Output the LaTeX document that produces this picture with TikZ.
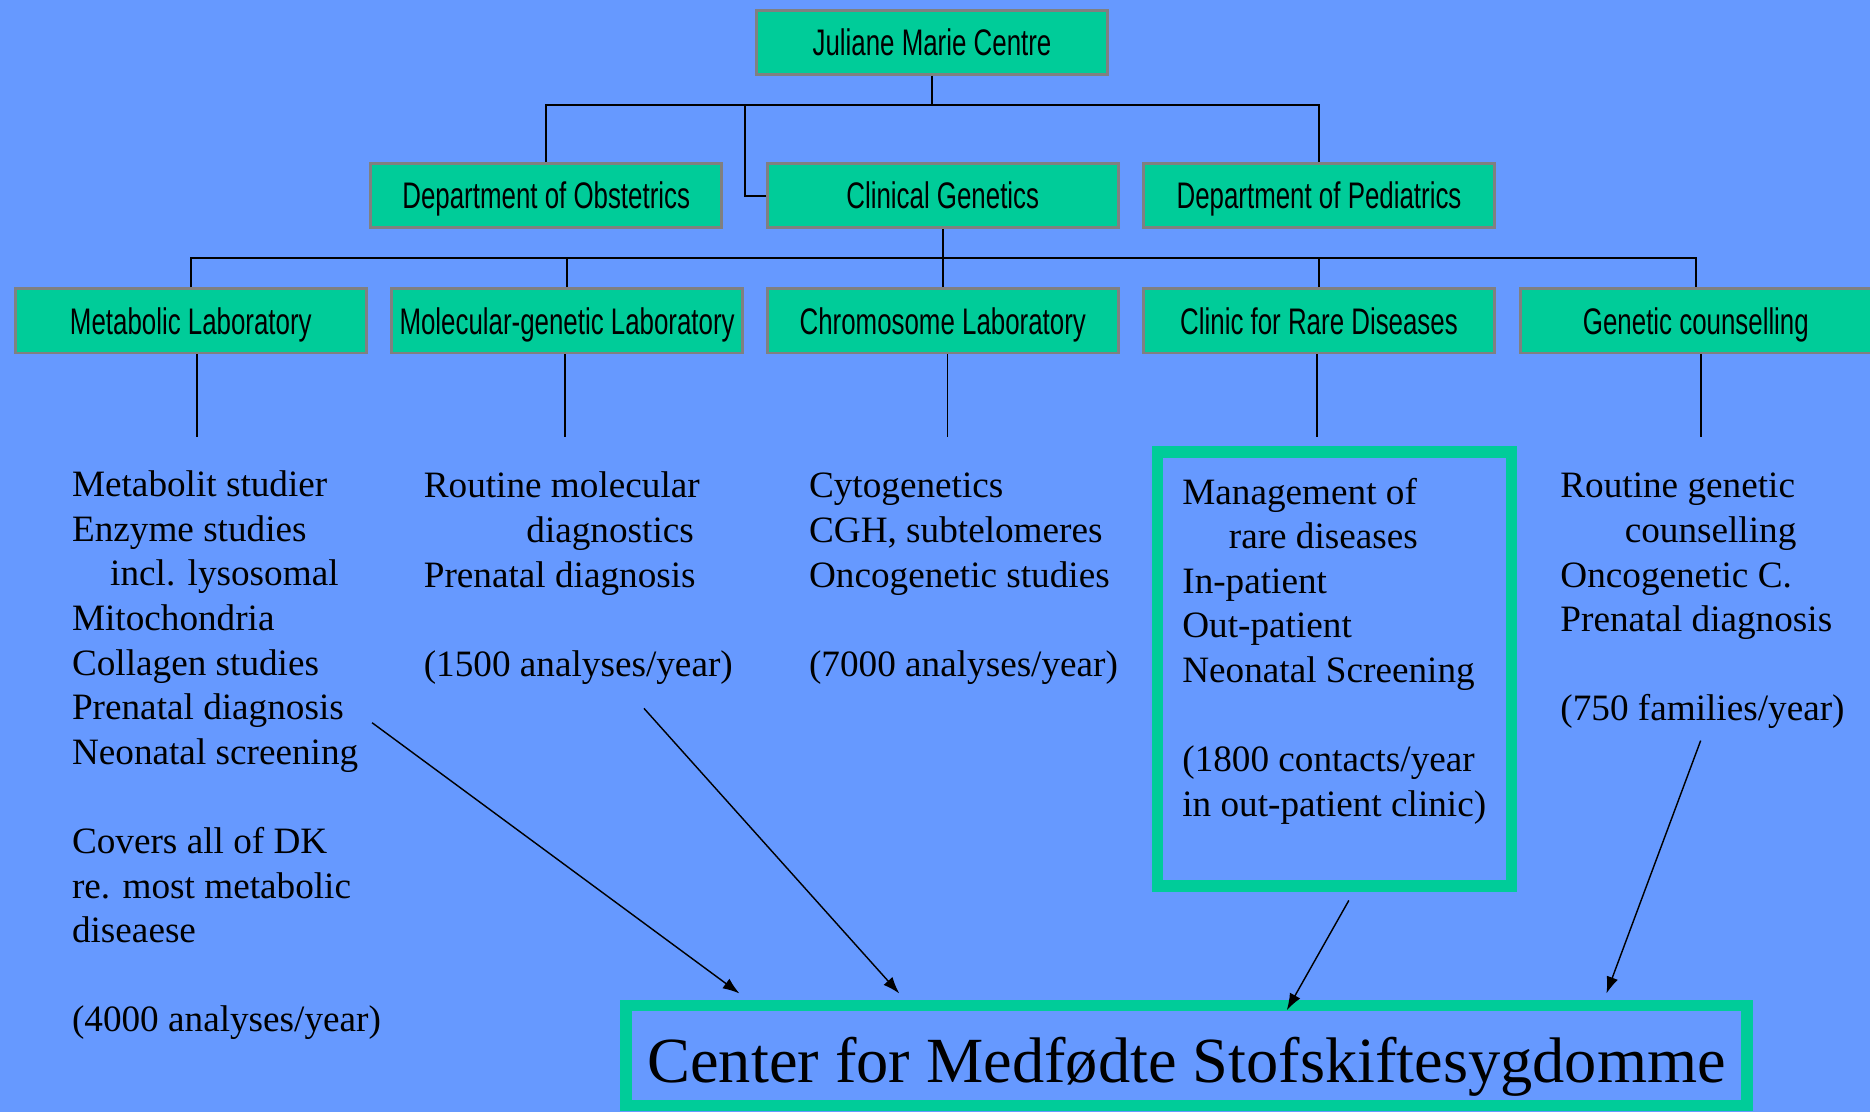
\documentclass[tikz,border=0pt]{standalone}
\usepackage{fontspec}
\setmainfont{Liberation Serif}
\newfontfamily\narrowsf[FakeStretch=0.70]{Liberation Sans}
\usetikzlibrary{arrows.meta}
\definecolor{bg}{HTML}{6699FF}
\definecolor{grn}{HTML}{00CC99}
\definecolor{bord}{HTML}{808080}
\begin{document}
\begin{tikzpicture}[x=0.5pt,y=-0.5pt,
  unit/.style={fill=grn,draw=bord,line width=1.2pt,minimum width=147pt,minimum height=27pt,
    inner sep=0pt,text height=11.1pt,text depth=0pt,
    font=\narrowsf\fontsize{15.5pt}{18pt}\selectfont},
  conn/.style={line width=0.8pt},
  body/.style={anchor=base west,inner sep=0pt,font=\fontsize{15.6pt}{18.7pt}\selectfont},
  frame/.style={draw=grn,line width=4.8pt,inner sep=0pt},
  arr/.style={-{Latex[length=7pt,width=5pt]},line width=0.6pt}
]
\fill[bg] (0,0) rectangle (1568,932);
\useasboundingbox (0,0) rectangle (1568,932);

% boxes
\node[unit] (jmc) at (781.5,35.5) {Juliane Marie Centre};
\node[unit] (obs) at (458,164) {Department of Obstetrics};
\node[unit] (cg)  at (790.5,164) {Clinical Genetics};
\node[unit] (ped) at (1106,164) {Department of Pediatrics};
\node[unit] (met) at (160,269) {Metabolic Laboratory};
\node[unit] (mol) at (475.5,269) {Molecular-genetic Laboratory};
\node[unit] (chr) at (790.5,269) {Chromosome Laboratory};
\node[unit] (crd) at (1106,269) {Clinic for Rare Diseases};
\node[unit] (gc)  at (1422,269) {Genetic counselling};

% tree connectors
\coordinate (bus1) at (781.5,88);
\coordinate (bus1b) at (625,88);
\coordinate (bus2) at (790.5,216);
\draw[conn] (jmc.south) -- (bus1);
\draw[conn] (obs.north) |- (bus1) -| (ped.north);
\draw[conn] (cg.west) -| (bus1b);
\draw[conn] (cg.south) -- (bus2);
\draw[conn] (met.north) |- (bus2) -| (gc.north);
\draw[conn] (mol.north) -- (mol.north |- bus2);
\draw[conn] (chr.north) -- (bus2);
\draw[conn] (crd.north) -- (crd.north |- bus2);

% stubs below row 3
\draw[conn] ([xshift=2.5pt]met.south) -- ++(0,69);
\draw[conn] ([xshift=-1pt]mol.south) -- ++(0,69);
\draw[conn] ([xshift=2pt]chr.south) -- ++(0,69);
\draw[conn] ([xshift=-1pt]crd.south) -- ++(0,69);
\draw[conn] ([xshift=2pt]gc.south) -- ++(0,69);

% text blocks
\node[body] (mettxt) at (60,416.5) {\begin{tabular}[t]{@{}l@{}}
Metabolit studier\\
Enzyme studies\\
\hspace*{16pt}incl. lysosomal\\
Mitochondria\\
Collagen studies\\
Prenatal diagnosis\\
Neonatal screening\\
\\
Covers all of DK\\
re. most metabolic\\
diseaese\\
\\
(4000 analyses/year)
\end{tabular}};

\node[body] (moltxt) at (355,417.5) {\begin{tabular}[t]{@{}l@{}}
Routine molecular\\
\hspace*{43pt}diagnostics\\
Prenatal diagnosis\\
\\
(1500 analyses/year)
\end{tabular}};

\node[body] (chrtxt) at (678,417.5) {\begin{tabular}[t]{@{}l@{}}
Cytogenetics\\
CGH, subtelomeres\\
Oncogenetic studies\\
\\
(7000 analyses/year)
\end{tabular}};

\node[frame,minimum width=148.5pt,minimum height=182pt] (rarebox) at (1119,561) {};
\node[body] (crdtxt) at (991,422.6) {\begin{tabular}[t]{@{}l@{}}
Management of\\
\hspace*{19.5pt}rare diseases\\
In-patient\\
Out-patient\\
Neonatal Screening\\
\\
(1800 contacts/year\\
in out-patient clinic)
\end{tabular}};

\node[body] (gctxt) at (1308,417.5) {\begin{tabular}[t]{@{}l@{}}
Routine genetic\\
\hspace*{27pt}counselling\\
Oncogenetic C.\\
Prenatal diagnosis\\
\\
(750 families/year)
\end{tabular}};

% bottom centre
\node[frame,minimum width=470pt,minimum height=42pt,text height=23pt,text depth=0pt,
  font=\fontsize{27pt}{32pt}\selectfont] (cmfs) at (995,885)
  {Center for Medfødte Stofskiftesygdomme};

% arrows
\coordinate (s1) at (312,606);  \coordinate (e1) at (620,833);
\coordinate (s2) at (540,594);  \coordinate (e2) at (754,833);
\coordinate (s3) at (1131,755); \coordinate (e3) at (1079,847);
\coordinate (s4) at (1426,621); \coordinate (e4) at (1347,833);
\draw[arr] (s1) -- (e1);
\draw[arr] (s2) -- (e2);
\draw[arr] (s3) -- (e3);
\draw[arr] (s4) -- (e4);
\end{tikzpicture}
\end{document}
